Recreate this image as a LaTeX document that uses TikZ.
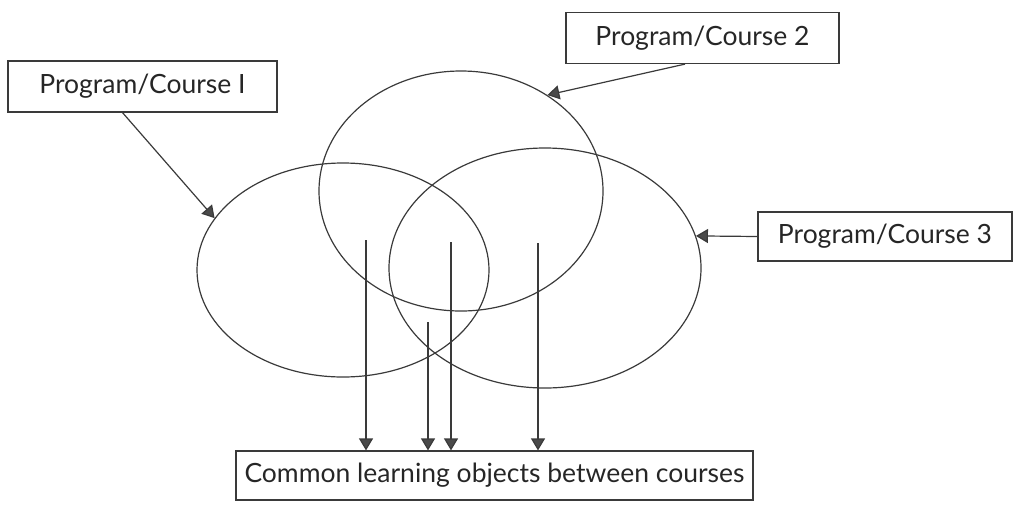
\documentclass[tikz,border=0pt]{standalone}
\usepackage{fontspec}
\setmainfont{Lato}
\usetikzlibrary{arrows.meta,shapes.geometric}
\definecolor{ink}{HTML}{3A3A3A}
\definecolor{tipc}{HTML}{4A4A4A}
\definecolor{txt}{HTML}{262626}
\tikzset{
  label box/.style={draw=ink, line width=1.2pt, rectangle, inner sep=0pt, text=txt, font=\fontsize{26.5}{30}\selectfont},
  blob/.style={draw=ink, line width=1.2pt, ellipse, inner sep=0pt},
  arr/.style={draw=ink, line width=1.2pt, -{Triangle[width=14pt,length=12pt,fill=tipc]}}
}
\begin{document}
\begin{tikzpicture}[x=1pt,y=-1pt]
\useasboundingbox (0,0) rectangle (1014,504);
\node[label box, minimum width=269pt, minimum height=51pt] (b1) at (142.5,86.5) {Program/Course I};
\node[label box, minimum width=273pt, minimum height=51pt] (b2) at (702.5,38) {Program/Course 2};
\node[label box, minimum width=254pt, minimum height=49pt] (b3) at (885,236.5) {Program/Course 3};
\node[label box, minimum width=517pt, minimum height=49pt] (b4) at (494.5,475.5) {Common learning objects between courses};
\node[blob, minimum width=292pt, minimum height=214pt] (e1) at (343,270) {};
\node[blob, minimum width=284pt, minimum height=240pt] (e2) at (461,191) {};
\node[blob, minimum width=312pt, minimum height=240pt] (e3) at (545,268) {};
\draw[arr] ([xshift=-20pt]b1.south) -- (e1.158);
\draw[arr] ([xshift=-17.5pt]b2.south) -- (e2.48);
\draw[arr] (b3.west) -- (e3.12);
\coordinate (d1) at (366,240);
\coordinate (d2) at (428,322);
\coordinate (d3) at (451,242);
\coordinate (d4) at (538,243);
\foreach \d in {d1,d2,d3,d4} \draw[arr] (\d) -- (\d |- b4.north);
\end{tikzpicture}
\end{document}
